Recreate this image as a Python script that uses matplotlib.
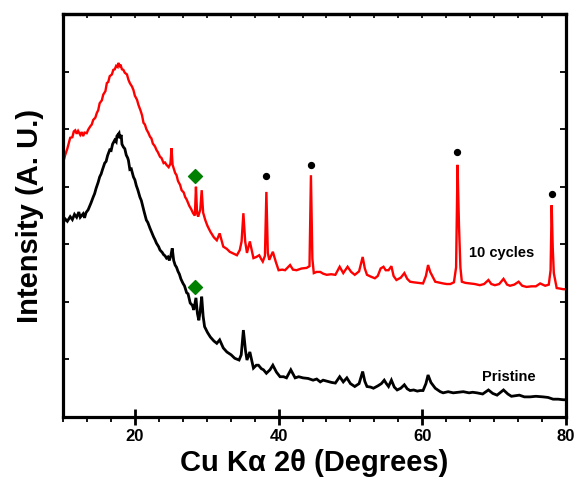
import matplotlib
matplotlib.use("Agg")
import matplotlib.pyplot as plt
from matplotlib.ticker import MultipleLocator, NullFormatter

plt.rcParams['font.family'] = ['Liberation Sans', 'DejaVu Sans']
plt.rcParams['font.weight'] = 'bold'

# Pristine (black)
x_pristine = [10.0, 10.3, 10.6, 11.0, 11.3, 11.6, 11.9, 12.2, 12.4, 12.8, 13.0, 13.2, 13.5, 13.7, 13.9, 14.2,
              14.4, 14.6, 14.9, 15.1, 15.3, 15.5, 15.8, 16.0, 16.2, 16.5, 16.7, 16.9, 17.2, 17.4, 17.5, 17.8,
              17.9, 18.1, 18.2, 18.4, 18.6, 18.8, 19.0, 19.1, 19.3, 19.5, 19.8, 20.0, 20.2, 20.4, 20.7, 20.9,
              21.1, 21.3, 21.6, 21.8, 22.1, 22.3, 22.6, 22.8, 23.0, 23.3, 23.5, 23.8, 24.0, 24.2, 24.4, 24.6,
              24.8, 25.0, 25.2, 25.4, 25.6, 25.8, 26.0, 26.2, 26.4, 26.7, 26.9, 27.2, 27.4, 27.7, 28.0,
              28.2, 28.5, 28.7, 28.9, 29.1, 29.3, 29.5, 29.7, 30.1, 30.5, 31.0, 31.4, 31.8, 32.3, 32.8, 33.4,
              33.9, 34.5, 34.8, 35.1, 35.4, 35.6, 36.0, 36.5, 36.9, 37.2, 37.6, 37.9, 38.3, 38.8, 39.2, 39.7,
              40.2, 40.7, 41.1, 41.7, 42.3, 42.8, 43.4, 44.1, 44.8, 45.3, 45.8, 46.2, 46.8, 47.4, 47.9, 48.5,
              49.0, 49.5, 50.0, 50.6, 51.2, 51.7, 52.0, 52.3, 52.8, 53.2, 53.8, 54.3, 54.7, 55.0, 55.3, 55.7,
              56.1, 56.5, 57.0, 57.5, 57.9, 58.3, 58.8, 59.3, 59.7, 60.1, 60.5, 60.8, 61.2, 61.8, 62.5, 62.9,
              63.6, 64.3, 65.0, 65.7, 66.5, 67.0, 67.6, 68.4, 69.2, 69.8, 70.4, 71.3, 71.9, 72.4, 73.0, 73.5,
              74.2, 75.0, 75.8, 76.8, 77.5, 78.2, 78.9, 79.6, 80.0]
y_pristine = [3.37, 3.44, 3.40, 3.48, 3.43, 3.52, 3.47, 3.56, 3.47, 3.53, 3.46, 3.55, 3.60, 3.66, 3.72, 3.82,
              3.88, 3.97, 4.08, 4.17, 4.22, 4.30, 4.41, 4.44, 4.54, 4.64, 4.63, 4.74, 4.81, 4.78, 4.88, 4.93,
              4.84, 4.90, 4.74, 4.69, 4.66, 4.55, 4.50, 4.46, 4.30, 4.31, 4.17, 4.12, 4.02, 3.95, 3.82, 3.76,
              3.66, 3.56, 3.42, 3.38, 3.28, 3.22, 3.13, 3.08, 3.02, 2.96, 2.90, 2.86, 2.82, 2.80, 2.76, 2.78,
              2.72, 2.80, 2.93, 2.72, 2.64, 2.60, 2.53, 2.48, 2.40, 2.32, 2.28, 2.16, 2.14, 1.98, 1.94,
              1.86, 2.07, 1.80, 1.68, 1.85, 2.09, 1.75, 1.57, 1.47, 1.39, 1.32, 1.28, 1.34, 1.20, 1.13, 1.08,
              1.02, 0.99, 1.08, 1.51, 1.15, 0.99, 1.13, 0.85, 0.90, 0.90, 0.84, 0.82, 0.76, 0.82, 0.90, 0.78,
              0.70, 0.70, 0.68, 0.82, 0.68, 0.70, 0.68, 0.67, 0.64, 0.66, 0.61, 0.64, 0.62, 0.60, 0.59, 0.70,
              0.61, 0.68, 0.58, 0.53, 0.58, 0.79, 0.62, 0.53, 0.52, 0.50, 0.54, 0.58, 0.64, 0.58, 0.53, 0.64,
              0.52, 0.47, 0.50, 0.56, 0.49, 0.46, 0.47, 0.45, 0.46, 0.46, 0.58, 0.73, 0.60, 0.50, 0.44, 0.42,
              0.44, 0.42, 0.43, 0.44, 0.42, 0.43, 0.42, 0.40, 0.47, 0.41, 0.38, 0.47, 0.40, 0.36, 0.37, 0.38,
              0.35, 0.35, 0.36, 0.35, 0.34, 0.31, 0.31, 0.30, 0.30]

# 10 cycles (red)
x_cycles = [10.0, 10.3, 10.6, 11.0, 11.3, 11.5, 11.7, 11.9, 12.1, 12.4, 12.6, 12.8, 13.0, 13.3, 13.5, 13.8,
            14.0, 14.2, 14.5, 14.7, 14.9, 15.1, 15.4, 15.6, 15.9, 16.1, 16.3, 16.5, 16.8, 17.0, 17.2, 17.4,
            17.6, 17.7, 17.9, 18.0, 18.2, 18.4, 18.6, 18.9, 19.1, 19.3, 19.6, 19.8, 20.0, 20.3, 20.5, 20.8,
            21.0, 21.2, 21.4, 21.6, 21.9, 22.1, 22.3, 22.5, 22.8, 23.0, 23.2, 23.5, 23.7, 24.0, 24.2, 24.4,
            24.7, 24.95, 25.1, 25.25, 25.6, 25.8, 26.0, 26.3, 26.5, 26.8, 27.0, 27.2, 27.4, 27.6, 27.8, 28.1,
            28.35, 28.5, 28.65,
            28.8, 29.1, 29.3, 29.5, 29.8, 30.1, 30.5, 31.0, 31.4, 31.8, 32.3, 32.8, 33.2, 33.7, 34.2, 34.6,
            34.85, 35.1, 35.35, 35.6, 36.0, 36.3, 36.5, 36.9, 37.3, 37.6, 37.8, 38.1, 38.3, 38.5, 38.7, 39.2,
            39.6, 40.0, 40.5, 40.9, 41.6, 42.0, 42.5, 43.2, 43.9, 44.3, 44.5, 44.7, 44.9, 45.3, 45.8, 46.2,
            46.7, 47.3, 47.9, 48.5, 49.0, 49.6, 50.1, 50.6, 51.2, 51.7, 52.0, 52.3, 52.8, 53.4, 53.8, 54.2,
            54.6, 54.9, 55.3, 55.7, 56.0, 56.4, 57.0, 57.5, 57.9, 58.3, 58.8, 59.4, 60.1, 60.5, 60.8, 61.1,
            61.8, 62.5, 62.9, 63.4, 63.9, 64.4, 64.7, 64.9, 65.1, 65.3, 65.5, 66.0, 66.6, 67.3, 68.0, 68.6,
            69.2, 69.6, 70.1, 70.7, 71.3, 71.8, 72.2, 72.8, 73.4, 73.9, 74.5, 75.2, 75.8, 76.4, 77.1, 77.6,
            77.85, 78.0, 78.15, 78.3, 78.7, 79.2, 79.6, 80.0]
y_cycles = [4.41, 4.55, 4.66, 4.85, 4.86, 4.96, 4.98, 4.92, 4.97, 4.90, 4.95, 4.88, 4.94, 4.93, 4.99, 5.05,
            5.08, 5.16, 5.20, 5.28, 5.33, 5.45, 5.50, 5.60, 5.66, 5.80, 5.82, 5.92, 5.95, 6.03, 6.04, 6.10,
            6.08, 6.15, 6.10, 6.12, 6.04, 6.03, 5.98, 5.95, 5.86, 5.80, 5.74, 5.68, 5.58, 5.51, 5.42, 5.32,
            5.24, 5.11, 5.08, 5.00, 4.93, 4.87, 4.84, 4.75, 4.70, 4.64, 4.60, 4.52, 4.50, 4.41, 4.42, 4.38,
            4.34, 4.40, 4.67, 4.38, 4.24, 4.20, 4.10, 4.03, 3.94, 3.90, 3.82, 3.78, 3.72, 3.66, 3.62, 3.54,
            3.50, 4.00, 3.55,
            3.48, 3.60, 3.94, 3.55, 3.42, 3.32, 3.22, 3.12, 3.07, 3.19, 2.96, 2.92, 2.87, 2.84, 2.81, 2.90,
            3.05, 3.54, 3.05, 2.85, 3.05, 2.88, 2.76, 2.78, 2.81, 2.74, 2.70, 2.80, 3.91, 2.85, 2.73, 2.87,
            2.70, 2.55, 2.56, 2.55, 2.64, 2.56, 2.55, 2.58, 2.59, 2.62, 4.20, 2.75, 2.50, 2.52, 2.52, 2.49,
            2.47, 2.48, 2.47, 2.61, 2.50, 2.61, 2.52, 2.47, 2.53, 2.78, 2.58, 2.47, 2.44, 2.41, 2.45, 2.58,
            2.61, 2.55, 2.55, 2.62, 2.45, 2.38, 2.42, 2.50, 2.40, 2.35, 2.34, 2.33, 2.32, 2.45, 2.64, 2.52,
            2.35, 2.33, 2.32, 2.31, 2.31, 2.34, 2.60, 4.38, 3.34, 2.60, 2.35, 2.33, 2.32, 2.31, 2.29, 2.31,
            2.38, 2.31, 2.29, 2.31, 2.40, 2.30, 2.28, 2.30, 2.35, 2.28, 2.26, 2.27, 2.27, 2.32, 2.28, 2.30,
            2.55, 3.68, 2.94, 2.50, 2.24, 2.23, 2.22, 2.22]

diamond_x = [28.4, 28.4]
diamond_y = [4.18, 2.26]
dot_x = [38.3, 44.55, 64.8, 78.0]
dot_y = [4.19, 4.38, 4.60, 3.87]

fig = plt.figure(figsize=(5.77, 4.83), dpi=100)
ax = fig.add_axes([0.1092, 0.1366, 0.8718, 0.8344])

ax.plot(x_pristine, y_pristine, color='black', lw=2.0, solid_joinstyle='miter')
ax.plot(x_cycles, y_cycles, color='#ff0000', lw=1.7, solid_joinstyle='miter')
ax.scatter(diamond_x, diamond_y, marker='D', s=50, color='#008000', zorder=5)
ax.scatter(dot_x, dot_y, marker='o', s=18, color='black', zorder=5)

ax.text(71.1, 2.85, '10 cycles', fontsize=10.5, fontweight='bold', ha='center', va='center')
ax.text(72.1, 0.69, 'Pristine', fontsize=10.5, fontweight='bold', ha='center', va='center')

ax.set_xlim(10, 80)
ax.set_ylim(0, 7)
ax.xaxis.set_major_locator(MultipleLocator(20))
ax.xaxis.set_minor_locator(MultipleLocator(10 / 3))
ax.yaxis.set_major_locator(MultipleLocator(1))
ax.yaxis.set_major_formatter(NullFormatter())

for s in ax.spines.values():
    s.set_linewidth(2.3)

ax.tick_params(axis='x', which='major', direction='inout', length=11, width=2, labelsize=12, pad=3,
               top=False)
ax.tick_params(axis='x', which='minor', direction='out', length=3.5, width=1.3, top=False)
ax.tick_params(axis='y', which='major', direction='in', length=4, width=1.3, left=True, right=True)
for lab in ax.get_xticklabels():
    lab.set_fontweight('bold')

top = ax.secondary_xaxis('top')
top.xaxis.set_major_locator(MultipleLocator(10 / 3))
top.xaxis.set_major_formatter(NullFormatter())
top.tick_params(axis='x', which='major', direction='in', length=3, width=1.2)
top.tick_params(axis='x', which='minor', length=0)
top.spines['top'].set_linewidth(2.3)

ax.set_xlabel('Cu K\u03b1 2\u03b8 (Degrees)', fontsize=21, fontweight='bold', labelpad=4)
ax.set_ylabel('Intensity (A. U.)', fontsize=21, fontweight='bold', labelpad=10)

fig.savefig('out.png', dpi=100)
